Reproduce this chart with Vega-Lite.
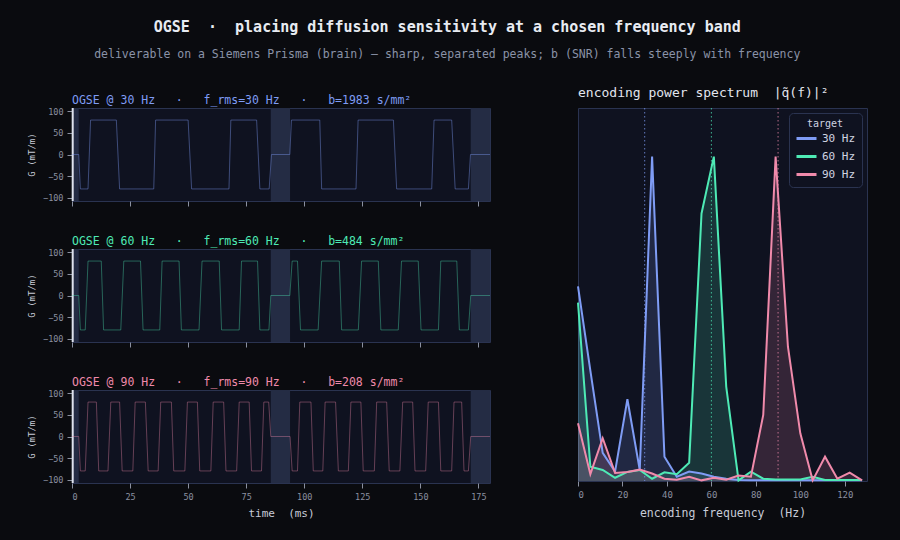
{
  "$schema": "https://vega.github.io/schema/vega-lite/v6.json",
  "background": "#0a0b0f",
  "padding": {"left": 27, "top": 19, "right": 32, "bottom": 22},
  "title": {
    "text": "OGSE\u00a0\u00a0·\u00a0\u00a0placing diffusion sensitivity at a chosen frequency band",
    "subtitle": "deliverable on a Siemens Prisma (brain) — sharp, separated peaks; b (SNR) falls steeply with frequency",
    "anchor": "middle",
    "frame": "bounds",
    "font": "DejaVu Sans Mono",
    "fontSize": 15,
    "fontWeight": "bold",
    "color": "#e8ebf2",
    "subtitleFont": "DejaVu Sans Mono",
    "subtitleFontSize": 11.5,
    "subtitleColor": "#8a93a8",
    "subtitlePadding": 14,
    "offset": 26
  },
  "datasets": {
    "bands": [
      {"start": 0, "end": 2.9},
      {"start": 85.6, "end": 93.9},
      {"start": 171.7, "end": 180}
    ],
    "rf": [{"t": 0.3}],
    "wave": [
      {"p": 30, "t": 0, "g": 0}, {"p": 30, "t": 2.9, "g": 0}, {"p": 30, "t": 3.6, "g": -80}, {"p": 30, "t": 6.9, "g": -80},
      {"p": 30, "t": 8.0, "g": 80}, {"p": 30, "t": 19.1, "g": 80}, {"p": 30, "t": 20.5, "g": -80}, {"p": 30, "t": 35.2, "g": -80},
      {"p": 30, "t": 36.0, "g": 80}, {"p": 30, "t": 50.0, "g": 80}, {"p": 30, "t": 51.5, "g": -80}, {"p": 30, "t": 67.6, "g": -80},
      {"p": 30, "t": 68.4, "g": 80}, {"p": 30, "t": 79.5, "g": 80}, {"p": 30, "t": 80.9, "g": -80}, {"p": 30, "t": 84.9, "g": -80},
      {"p": 30, "t": 85.9, "g": 0}, {"p": 30, "t": 93.8, "g": 0}, {"p": 30, "t": 94.5, "g": 80}, {"p": 30, "t": 106.7, "g": 80},
      {"p": 30, "t": 107.5, "g": -80}, {"p": 30, "t": 122.3, "g": -80}, {"p": 30, "t": 123.2, "g": 80}, {"p": 30, "t": 138.4, "g": 80},
      {"p": 30, "t": 139.8, "g": -80}, {"p": 30, "t": 154.9, "g": -80}, {"p": 30, "t": 155.9, "g": 80}, {"p": 30, "t": 163.5, "g": 80},
      {"p": 30, "t": 165.0, "g": -80}, {"p": 30, "t": 170.7, "g": -80}, {"p": 30, "t": 171.6, "g": 0}, {"p": 30, "t": 180, "g": 0},

      {"p": 60, "t": 0, "g": 0}, {"p": 60, "t": 2.9, "g": 0}, {"p": 60, "t": 3.6, "g": -80}, {"p": 60, "t": 5.7, "g": -80},
      {"p": 60, "t": 6.9, "g": 80}, {"p": 60, "t": 12.6, "g": 80}, {"p": 60, "t": 13.6, "g": -80}, {"p": 60, "t": 21.0, "g": -80},
      {"p": 60, "t": 22.3, "g": 80}, {"p": 60, "t": 29.5, "g": 80}, {"p": 60, "t": 30.6, "g": -80}, {"p": 60, "t": 37.8, "g": -80},
      {"p": 60, "t": 38.8, "g": 80}, {"p": 60, "t": 46.1, "g": 80}, {"p": 60, "t": 47.1, "g": -80}, {"p": 60, "t": 54.7, "g": -80},
      {"p": 60, "t": 56.0, "g": 80}, {"p": 60, "t": 63.4, "g": 80}, {"p": 60, "t": 64.4, "g": -80}, {"p": 60, "t": 72.0, "g": -80},
      {"p": 60, "t": 73.0, "g": 80}, {"p": 60, "t": 79.9, "g": 80}, {"p": 60, "t": 80.9, "g": -80}, {"p": 60, "t": 84.8, "g": -80},
      {"p": 60, "t": 85.6, "g": 0}, {"p": 60, "t": 93.8, "g": 0}, {"p": 60, "t": 94.8, "g": 80}, {"p": 60, "t": 97.1, "g": 80},
      {"p": 60, "t": 98.4, "g": -80}, {"p": 60, "t": 106.0, "g": -80}, {"p": 60, "t": 107.5, "g": 80}, {"p": 60, "t": 115.1, "g": 80},
      {"p": 60, "t": 116.1, "g": -80}, {"p": 60, "t": 123.3, "g": -80}, {"p": 60, "t": 124.7, "g": 80}, {"p": 60, "t": 131.9, "g": 80},
      {"p": 60, "t": 133.0, "g": -80}, {"p": 60, "t": 140.5, "g": -80}, {"p": 60, "t": 141.9, "g": 80}, {"p": 60, "t": 149.1, "g": 80},
      {"p": 60, "t": 150.3, "g": -80}, {"p": 60, "t": 157.8, "g": -80}, {"p": 60, "t": 158.8, "g": 80}, {"p": 60, "t": 165.7, "g": 80},
      {"p": 60, "t": 166.8, "g": -80}, {"p": 60, "t": 170.7, "g": -80}, {"p": 60, "t": 171.7, "g": 0}, {"p": 60, "t": 180, "g": 0},

      {"p": 90, "t": 0, "g": 0}, {"p": 90, "t": 2.9, "g": 0}, {"p": 90, "t": 3.6, "g": -80}, {"p": 90, "t": 5.7, "g": -80},
      {"p": 90, "t": 6.9, "g": 80}, {"p": 90, "t": 10.5, "g": 80}, {"p": 90, "t": 11.5, "g": -80}, {"p": 90, "t": 15.5, "g": -80},
      {"p": 90, "t": 16.7, "g": 80}, {"p": 90, "t": 20.5, "g": 80}, {"p": 90, "t": 21.6, "g": -80}, {"p": 90, "t": 26.2, "g": -80},
      {"p": 90, "t": 27.2, "g": 80}, {"p": 90, "t": 31.6, "g": 80}, {"p": 90, "t": 32.8, "g": -80}, {"p": 90, "t": 37.1, "g": -80},
      {"p": 90, "t": 38.2, "g": 80}, {"p": 90, "t": 42.8, "g": 80}, {"p": 90, "t": 43.8, "g": -80}, {"p": 90, "t": 48.6, "g": -80},
      {"p": 90, "t": 49.7, "g": 80}, {"p": 90, "t": 54.0, "g": 80}, {"p": 90, "t": 55.0, "g": -80}, {"p": 90, "t": 59.8, "g": -80},
      {"p": 90, "t": 60.8, "g": 80}, {"p": 90, "t": 65.3, "g": 80}, {"p": 90, "t": 66.3, "g": -80}, {"p": 90, "t": 70.9, "g": -80},
      {"p": 90, "t": 72.0, "g": 80}, {"p": 90, "t": 76.3, "g": 80}, {"p": 90, "t": 77.3, "g": -80}, {"p": 90, "t": 81.6, "g": -80},
      {"p": 90, "t": 82.6, "g": 80}, {"p": 90, "t": 84.7, "g": 80}, {"p": 90, "t": 85.6, "g": 0}, {"p": 90, "t": 93.9, "g": 0},
      {"p": 90, "t": 94.8, "g": -80}, {"p": 90, "t": 97.1, "g": -80}, {"p": 90, "t": 98.1, "g": 80}, {"p": 90, "t": 102.9, "g": 80},
      {"p": 90, "t": 103.9, "g": -80}, {"p": 90, "t": 108.0, "g": -80}, {"p": 90, "t": 109.0, "g": 80}, {"p": 90, "t": 113.5, "g": 80},
      {"p": 90, "t": 114.7, "g": -80}, {"p": 90, "t": 119.0, "g": -80}, {"p": 90, "t": 120.1, "g": 80}, {"p": 90, "t": 124.4, "g": 80},
      {"p": 90, "t": 125.4, "g": -80}, {"p": 90, "t": 130.2, "g": -80}, {"p": 90, "t": 131.2, "g": 80}, {"p": 90, "t": 135.5, "g": 80},
      {"p": 90, "t": 136.6, "g": -80}, {"p": 90, "t": 141.2, "g": -80}, {"p": 90, "t": 142.4, "g": 80}, {"p": 90, "t": 146.7, "g": 80},
      {"p": 90, "t": 147.7, "g": -80}, {"p": 90, "t": 152.3, "g": -80}, {"p": 90, "t": 153.4, "g": 80}, {"p": 90, "t": 157.8, "g": 80},
      {"p": 90, "t": 158.8, "g": -80}, {"p": 90, "t": 163.5, "g": -80}, {"p": 90, "t": 164.5, "g": 80}, {"p": 90, "t": 167.8, "g": 80},
      {"p": 90, "t": 168.8, "g": -80}, {"p": 90, "t": 170.7, "g": -80}, {"p": 90, "t": 171.7, "g": 0}, {"p": 90, "t": 180, "g": 0}
    ],
    "targets": [
      {"target": "30 Hz", "f": 30},
      {"target": "60 Hz", "f": 60},
      {"target": "90 Hz", "f": 90}
    ],
    "spectrum": [
      {"target": "30 Hz", "f": 0, "power": 0.6}, {"target": "30 Hz", "f": 5.56, "power": 0.34}, {"target": "30 Hz", "f": 11.11, "power": 0.087},
      {"target": "30 Hz", "f": 16.67, "power": 0.029}, {"target": "30 Hz", "f": 22.22, "power": 0.252}, {"target": "30 Hz", "f": 27.78, "power": 0.034},
      {"target": "30 Hz", "f": 33.33, "power": 1.0}, {"target": "30 Hz", "f": 38.89, "power": 0.075}, {"target": "30 Hz", "f": 44.44, "power": 0.013},
      {"target": "30 Hz", "f": 50.0, "power": 0.029}, {"target": "30 Hz", "f": 55.56, "power": 0.023}, {"target": "30 Hz", "f": 61.11, "power": 0.013},
      {"target": "30 Hz", "f": 66.67, "power": 0.007}, {"target": "30 Hz", "f": 72.22, "power": 0.003}, {"target": "30 Hz", "f": 77.78, "power": 0.002},
      {"target": "30 Hz", "f": 83.33, "power": 0.002}, {"target": "30 Hz", "f": 88.89, "power": 0.002}, {"target": "30 Hz", "f": 94.44, "power": 0.002},
      {"target": "30 Hz", "f": 100.0, "power": 0.002}, {"target": "30 Hz", "f": 105.56, "power": 0.002}, {"target": "30 Hz", "f": 111.11, "power": 0.002},
      {"target": "30 Hz", "f": 116.67, "power": 0.002}, {"target": "30 Hz", "f": 122.22, "power": 0.002}, {"target": "30 Hz", "f": 127.78, "power": 0.002},

      {"target": "60 Hz", "f": 0, "power": 0.55}, {"target": "60 Hz", "f": 5.56, "power": 0.044}, {"target": "60 Hz", "f": 11.11, "power": 0.034},
      {"target": "60 Hz", "f": 16.67, "power": 0.01}, {"target": "60 Hz", "f": 22.22, "power": 0.028}, {"target": "60 Hz", "f": 27.78, "power": 0.034},
      {"target": "60 Hz", "f": 33.33, "power": 0.007}, {"target": "60 Hz", "f": 38.89, "power": 0.027}, {"target": "60 Hz", "f": 44.44, "power": 0.021},
      {"target": "60 Hz", "f": 50.0, "power": 0.056}, {"target": "60 Hz", "f": 55.56, "power": 0.825}, {"target": "60 Hz", "f": 61.11, "power": 1.0},
      {"target": "60 Hz", "f": 66.67, "power": 0.291}, {"target": "60 Hz", "f": 72.22, "power": 0.002}, {"target": "60 Hz", "f": 77.78, "power": 0.029},
      {"target": "60 Hz", "f": 83.33, "power": 0.007}, {"target": "60 Hz", "f": 88.89, "power": 0.005}, {"target": "60 Hz", "f": 94.44, "power": 0.005},
      {"target": "60 Hz", "f": 100.0, "power": 0.005}, {"target": "60 Hz", "f": 105.56, "power": 0.013}, {"target": "60 Hz", "f": 111.11, "power": 0.003},
      {"target": "60 Hz", "f": 116.67, "power": 0.003}, {"target": "60 Hz", "f": 122.22, "power": 0.003}, {"target": "60 Hz", "f": 127.78, "power": 0.003},

      {"target": "90 Hz", "f": 0, "power": 0.178}, {"target": "90 Hz", "f": 5.56, "power": 0.021}, {"target": "90 Hz", "f": 11.11, "power": 0.132},
      {"target": "90 Hz", "f": 16.67, "power": 0.025}, {"target": "90 Hz", "f": 22.22, "power": 0.028}, {"target": "90 Hz", "f": 27.78, "power": 0.035},
      {"target": "90 Hz", "f": 33.33, "power": 0.023}, {"target": "90 Hz", "f": 38.89, "power": 0.007}, {"target": "90 Hz", "f": 44.44, "power": 0.004},
      {"target": "90 Hz", "f": 50.0, "power": 0.013}, {"target": "90 Hz", "f": 55.56, "power": 0.002}, {"target": "90 Hz", "f": 61.11, "power": 0.01},
      {"target": "90 Hz", "f": 66.67, "power": 0.004}, {"target": "90 Hz", "f": 72.22, "power": 0.017}, {"target": "90 Hz", "f": 77.78, "power": 0.013},
      {"target": "90 Hz", "f": 83.33, "power": 0.204}, {"target": "90 Hz", "f": 88.89, "power": 1.0}, {"target": "90 Hz", "f": 94.44, "power": 0.414},
      {"target": "90 Hz", "f": 100.0, "power": 0.147}, {"target": "90 Hz", "f": 105.56, "power": 0.002}, {"target": "90 Hz", "f": 111.11, "power": 0.075},
      {"target": "90 Hz", "f": 116.67, "power": 0.007}, {"target": "90 Hz", "f": 122.22, "power": 0.026}, {"target": "90 Hz", "f": 127.78, "power": 0.002}
    ]
  },
  "hconcat": [
    {
      "vconcat": [
        {
          "width": 418,
          "height": 93,
          "title": {"text": "OGSE @ 30 Hz\u00a0\u00a0\u00a0·\u00a0\u00a0\u00a0f_rms=30 Hz\u00a0\u00a0\u00a0·\u00a0\u00a0\u00a0b=1983 s/mm²", "color": "#7f9cf5"},
          "layer": [
            {
              "data": {"name": "bands"},
              "mark": {"type": "rect", "color": "#242c44"},
              "encoding": {
                "x": {"field": "start", "type": "quantitative", "scale": {"domain": [0, 180], "nice": false},
                      "axis": {"values": [0, 25, 50, 75, 100, 125, 150, 175], "labels": false, "title": null}},
                "x2": {"field": "end"}
              }
            },
            {
              "data": {"name": "rf"},
              "mark": {"type": "rule", "color": "#dfe3ee", "strokeWidth": 2},
              "encoding": {"x": {"field": "t", "type": "quantitative"}}
            },
            {
              "data": {"name": "wave"},
              "transform": [{"filter": "datum.p == 30"}],
              "mark": {"type": "line", "color": "#7f9cf5", "strokeWidth": 1, "opacity": 0.42},
              "encoding": {
                "x": {"field": "t", "type": "quantitative"},
                "y": {"field": "g", "type": "quantitative", "scale": {"domain": [-108, 108], "nice": false},
                      "axis": {"values": [-100, -50, 0, 50, 100], "title": "G (mT/m)"}}
              }
            }
          ]
        },
        {
          "width": 418,
          "height": 93,
          "title": {"text": "OGSE @ 60 Hz\u00a0\u00a0\u00a0·\u00a0\u00a0\u00a0f_rms=60 Hz\u00a0\u00a0\u00a0·\u00a0\u00a0\u00a0b=484 s/mm²", "color": "#4eeab5"},
          "layer": [
            {
              "data": {"name": "bands"},
              "mark": {"type": "rect", "color": "#242c44"},
              "encoding": {
                "x": {"field": "start", "type": "quantitative", "scale": {"domain": [0, 180], "nice": false},
                      "axis": {"values": [0, 25, 50, 75, 100, 125, 150, 175], "labels": false, "title": null}},
                "x2": {"field": "end"}
              }
            },
            {
              "data": {"name": "rf"},
              "mark": {"type": "rule", "color": "#dfe3ee", "strokeWidth": 2},
              "encoding": {"x": {"field": "t", "type": "quantitative"}}
            },
            {
              "data": {"name": "wave"},
              "transform": [{"filter": "datum.p == 60"}],
              "mark": {"type": "line", "color": "#4eeab5", "strokeWidth": 1, "opacity": 0.38},
              "encoding": {
                "x": {"field": "t", "type": "quantitative"},
                "y": {"field": "g", "type": "quantitative", "scale": {"domain": [-108, 108], "nice": false},
                      "axis": {"values": [-100, -50, 0, 50, 100], "title": "G (mT/m)"}}
              }
            }
          ]
        },
        {
          "width": 418,
          "height": 93,
          "title": {"text": "OGSE @ 90 Hz\u00a0\u00a0\u00a0·\u00a0\u00a0\u00a0f_rms=90 Hz\u00a0\u00a0\u00a0·\u00a0\u00a0\u00a0b=208 s/mm²", "color": "#f08aab"},
          "layer": [
            {
              "data": {"name": "bands"},
              "mark": {"type": "rect", "color": "#242c44"},
              "encoding": {
                "x": {"field": "start", "type": "quantitative", "scale": {"domain": [0, 180], "nice": false},
                      "axis": {"values": [0, 25, 50, 75, 100, 125, 150, 175], "title": "time\u00a0\u00a0(ms)", "titlePadding": 7}},
                "x2": {"field": "end"}
              }
            },
            {
              "data": {"name": "rf"},
              "mark": {"type": "rule", "color": "#dfe3ee", "strokeWidth": 2},
              "encoding": {"x": {"field": "t", "type": "quantitative"}}
            },
            {
              "data": {"name": "wave"},
              "transform": [{"filter": "datum.p == 90"}],
              "mark": {"type": "line", "color": "#f08aab", "strokeWidth": 1, "opacity": 0.38},
              "encoding": {
                "x": {"field": "t", "type": "quantitative"},
                "y": {"field": "g", "type": "quantitative", "scale": {"domain": [-108, 108], "nice": false},
                      "axis": {"values": [-100, -50, 0, 50, 100], "title": "G (mT/m)"}}
              }
            }
          ]
        }
      ],
      "spacing": 28
    },
    {
      "width": 289,
      "height": 373,
      "title": {"text": "encoding power spectrum\u00a0\u00a0|q̃(f)|²", "color": "#e2e5ee", "fontSize": 13, "offset": 8},
      "resolve": {"legend": {"color": "independent"}},
      "layer": [
        {
          "data": {"name": "spectrum"},
          "mark": {"type": "area", "opacity": 0.17},
          "encoding": {
            "x": {"field": "f", "type": "quantitative", "scale": {"domain": [0, 130], "nice": false},
                  "axis": {"values": [0, 20, 40, 60, 80, 100, 120], "title": "encoding frequency\u00a0\u00a0(Hz)", "labelFontSize": 9, "titleFontSize": 11.5, "titlePadding": 8}},
            "y": {"field": "power", "type": "quantitative", "stack": null, "scale": {"domain": [0, 1.15], "nice": false}, "axis": null},
            "color": {"field": "target", "type": "nominal",
                      "scale": {"domain": ["30 Hz", "60 Hz", "90 Hz"], "range": ["#7f9cf5", "#4eeab5", "#f08aab"]},
                      "legend": null}
          }
        },
        {
          "data": {"name": "targets"},
          "mark": {"type": "rule", "strokeDash": [1.5, 2.5], "strokeWidth": 1, "opacity": 0.75},
          "encoding": {
            "x": {"field": "f", "type": "quantitative"},
            "color": {"field": "target", "type": "nominal", "legend": null}
          }
        },
        {
          "data": {"name": "spectrum"},
          "mark": {"type": "line", "strokeWidth": 2},
          "encoding": {
            "x": {"field": "f", "type": "quantitative"},
            "y": {"field": "power", "type": "quantitative"},
            "color": {"field": "target", "type": "nominal",
                      "legend": {"title": "target", "orient": "top-right", "offset": 5}}
          }
        }
      ]
    }
  ],
  "spacing": 80,
  "config": {
    "font": "DejaVu Sans Mono",
    "view": {"fill": "#0f1220", "stroke": "#2a3350"},
    "title": {"font": "DejaVu Sans Mono", "fontSize": 11.5, "fontWeight": "normal", "anchor": "start", "frame": "group", "offset": 1},
    "axis": {
      "labelFont": "DejaVu Sans Mono",
      "titleFont": "DejaVu Sans Mono",
      "labelColor": "#8a90a0",
      "titleColor": "#c8ccd8",
      "tickColor": "#8a90a0",
      "tickSize": 5,
      "labelPadding": 4,
      "domain": false,
      "grid": false,
      "labelFontSize": 8.5,
      "titleFontSize": 11,
      "titleFontWeight": "normal"
    },
    "axisY": {"titleFontSize": 9, "titlePadding": 6},
    "legend": {
      "titleFont": "DejaVu Sans Mono",
      "labelFont": "DejaVu Sans Mono",
      "titleColor": "#d0d4e0",
      "labelColor": "#d0d4e0",
      "titleFontSize": 10,
      "titleFontWeight": "normal",
      "titleAnchor": "middle",
      "titlePadding": -2,
      "labelFontSize": 11,
      "symbolType": "stroke",
      "symbolStrokeWidth": 3,
      "symbolSize": 400,
      "rowPadding": -2,
      "fillColor": "#0f1220",
      "strokeColor": "#2a3350",
      "cornerRadius": 4,
      "padding": 6
    }
  }
}
